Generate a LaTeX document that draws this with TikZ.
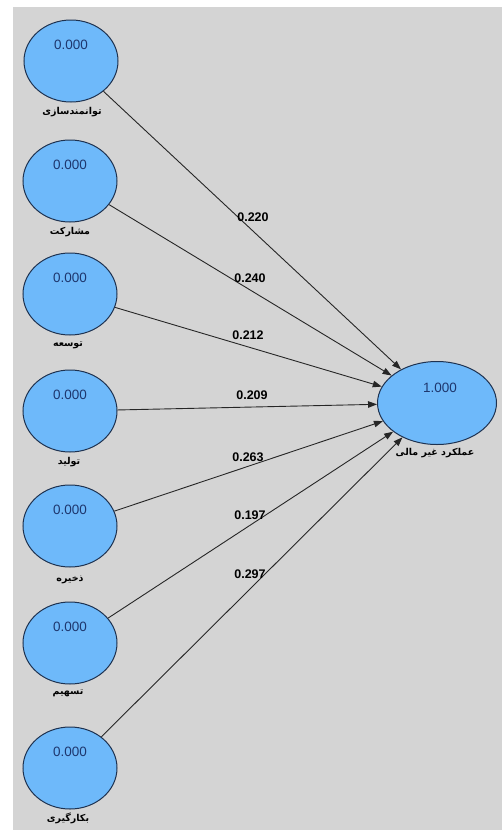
\documentclass[tikz,border=0pt]{standalone}
\usepackage{fontspec}
\setmainfont{Liberation Sans}
\newfontfamily\fafont[Script=Arabic]{DejaVu Sans}
\TeXXeTstate=1
\usetikzlibrary{arrows.meta,shapes.geometric}
\definecolor{bgc}{RGB}{212,212,212}
\definecolor{nodefill}{RGB}{110,185,250}
\definecolor{nodeline}{RGB}{30,50,80}
\definecolor{valtext}{RGB}{30,55,110}
\tikzset{
  lv/.style={ellipse, draw=nodeline, line width=1pt, fill=nodefill,
    minimum width=94pt, minimum height=82pt, inner sep=0pt},
  tv/.style={lv, minimum width=119pt, minimum height=83pt},
  val/.style={text=valtext, font=\fontsize{13.5}{14}\selectfont, inner sep=0pt},
  falab/.style={text=black, font=\fafont\bfseries\fontsize{9.5}{10}\selectfont, inner sep=0pt},
  wt/.style={text=black, font=\bfseries\fontsize{12.5}{13}\selectfont, inner sep=0pt},
  conn/.style={draw=black!85, line width=0.9pt, -{Triangle[length=9pt,width=6.5pt]}}
}
\begin{document}
\begin{tikzpicture}[x=1pt,y=-1pt]
\useasboundingbox (0,0) rectangle (502,830);
\fill[white] (0,0) rectangle (502,830);
\fill[bgc] (13,7) rectangle (502,830);

% target
\node[tv] (t) at (437,403) {};
\node[val] (tval) at (440,388) {1.000};
\node[falab] (tlab) at (435,453) {\beginR عملکرد غیر مالی\endR};

% sources
\node[lv] (c1) at (71,61) {};
\node[lv] (c2) at (70,181) {};
\node[lv] (c3) at (70,294) {};
\node[lv] (c4) at (70,411) {};
\node[lv] (c5) at (70,526) {};
\node[lv] (c6) at (70,643) {};
\node[lv] (c7) at (70,768) {};

\node[val] (v1) at (71,45) {0.000};
\node[val] (v2) at (70,165) {0.000};
\node[val] (v3) at (70,278) {0.000};
\node[val] (v4) at (70,395) {0.000};
\node[val] (v5) at (70,510) {0.000};
\node[val] (v6) at (70,627) {0.000};
\node[val] (v7) at (70,752) {0.000};

\node[falab] (l1) at (72,112) {\beginR توانمندسازی\endR};
\node[falab] (l2) at (70,232) {\beginR مشارکت\endR};
\node[falab] (l3) at (68,345) {\beginR توسعه\endR};
\node[falab] (l4) at (69,462) {\beginR تولید\endR};
\node[falab] (l5) at (70,580) {\beginR ذخیره\endR};
\node[falab] (l6) at (68,693) {\beginR تسهیم\endR};
\node[falab] (l7) at (68,818) {\beginR بکارگیری\endR};

\foreach \i in {1,...,7} { \draw[conn] (c\i) -- (t); }

\node[wt] (w1) at (253,217) {0.220};
\node[wt] (w2) at (250,278) {0.240};
\node[wt] (w3) at (248,335) {0.212};
\node[wt] (w4) at (252,395) {0.209};
\node[wt] (w5) at (248,457) {0.263};
\node[wt] (w6) at (250,515) {0.197};
\node[wt] (w7) at (250,574) {0.297};
\end{tikzpicture}
\end{document}
